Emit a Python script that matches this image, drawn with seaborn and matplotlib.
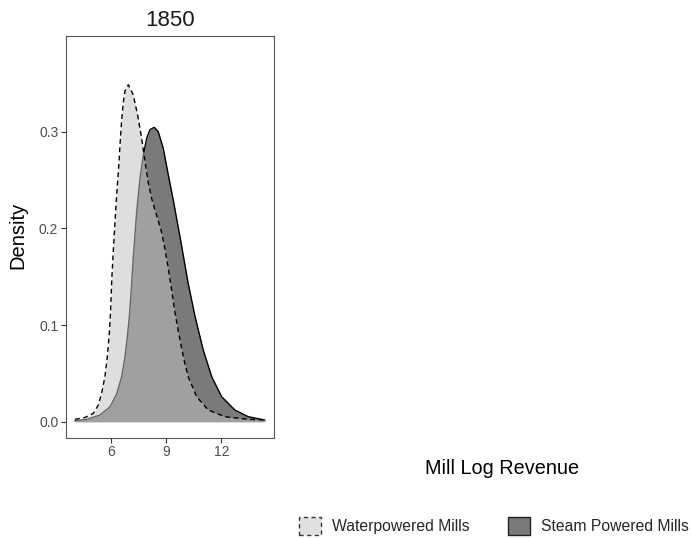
import matplotlib
matplotlib.use("Agg")
import matplotlib.pyplot as plt
from matplotlib.patches import Patch
import seaborn as sns
import pandas as pd

# Density estimates of log revenue, 1850
water_x = [4.04, 4.59, 5.04, 5.31, 5.49, 5.67, 5.80, 5.91, 5.98, 6.05, 6.13, 6.22,
           6.31, 6.40, 6.49, 6.58, 6.67, 6.76, 6.94, 7.21, 7.45, 7.67, 7.85, 8.03,
           8.21, 8.39, 8.57, 8.75, 8.94, 9.12, 9.30, 9.48, 9.66, 9.84, 10.02, 10.20,
           10.66, 11.29, 12.20, 13.47, 14.37]
water_d = [0.0025, 0.0045, 0.0087, 0.0173, 0.0294, 0.0465, 0.0672, 0.0914, 0.1155, 0.150, 0.178, 0.207,
           0.235, 0.258, 0.286, 0.312, 0.330, 0.342, 0.3485, 0.338, 0.317, 0.293, 0.269, 0.247,
           0.231, 0.219, 0.208, 0.196, 0.178, 0.158, 0.136, 0.113, 0.094, 0.076, 0.060, 0.0465,
           0.0259, 0.0121, 0.0052, 0.0025, 0.0018]

steam_x = [4.04, 4.68, 5.40, 5.95, 6.31, 6.58, 6.76, 6.89, 7.00, 7.09, 7.18, 7.21,
           7.40, 7.58, 7.76, 7.94, 8.12, 8.35, 8.57, 8.84, 9.12, 9.39, 9.84, 10.20,
           10.57, 11.02, 11.48, 12.02, 12.74, 13.47, 14.37]
steam_d = [0.001, 0.0025, 0.0069, 0.0155, 0.029, 0.0465, 0.067, 0.088, 0.109, 0.133, 0.160, 0.169,
           0.218, 0.252, 0.276, 0.293, 0.302, 0.3045, 0.300, 0.283, 0.255, 0.229, 0.182, 0.143,
           0.109, 0.074, 0.0465, 0.0259, 0.0121, 0.0052, 0.0018]

groups = ["Waterpowered Mills", "Steam Powered Mills"]
x_ticks = [6, 9, 12]
y_ticks = [0.0, 0.1, 0.2, 0.3]
panel_title = "1850"

sns.set_theme(style="white")
plt.rcParams["font.family"] = ["Liberation Sans", "DejaVu Sans"]

water = pd.DataFrame({"x": water_x, "d": water_d})
steam = pd.DataFrame({"x": steam_x, "d": steam_d})

fig = plt.figure(figsize=(6.92, 5.38), dpi=100)
ax = fig.add_axes([66 / 692, 1 - 437.7 / 538, (273.5 - 66) / 692, (437.7 - 36) / 538])

water_fill = "#c2c2c2"
steam_fill = "#7a7a7a"

# steam layer underneath
ax.fill_between(steam["x"], 0, steam["d"], color=steam_fill, linewidth=0, zorder=1)
sns.lineplot(data=steam, x="x", y="d", ax=ax, color="black", linewidth=1.0,
             sort=False, zorder=2)

# waterpowered layer on top, translucent
ax.fill_between(water["x"], 0, water["d"], color=water_fill, alpha=0.53,
                linewidth=0, zorder=3)
sns.lineplot(data=water, x="x", y="d", ax=ax, color="black", linewidth=1.0,
             sort=False, zorder=4)
ax.lines[-1].set_linestyle((0, (3.5, 2.5)))
for ln in ax.lines:
    ln.set_solid_joinstyle("round")
    ln.set_dash_joinstyle("round")

ax.set_xlim(3.553, 14.84)
ax.set_ylim(-0.0165, 0.3989)
ax.set_xticks(x_ticks)
ax.set_xticklabels([str(t) for t in x_ticks])
ax.set_yticks(y_ticks)
ax.set_yticklabels([f"{t:.1f}" for t in y_ticks])
ax.tick_params(axis="both", which="both", length=3.5, width=0.8, color="#333333",
               labelsize=10, labelcolor="#4d4d4d", pad=2, bottom=True, left=True)
ax.set_xlabel("")
ax.set_ylabel("")
for s in ax.spines.values():
    s.set_color("#555555")
    s.set_linewidth(0.8)
ax.grid(False)
ax.set_title(panel_title, fontsize=16, color="#1a1a1a", pad=7)

fig.text(17.5 / 692, 1 - 235 / 538, "Density", rotation=90, ha="center", va="center",
         fontsize=14.5, color="black")
fig.text(502 / 692, 1 - 468 / 538, "Mill Log Revenue", ha="center", va="center",
         fontsize=14.3, color="black")

handles = [
    Patch(facecolor="#e0e0e0", edgecolor="#333333", linestyle=(0, (3, 2.5)), linewidth=1.0),
    Patch(facecolor=steam_fill, edgecolor="#222222", linewidth=1.0),
]
fig.legend(handles, groups, loc="center", bbox_to_anchor=(494 / 692, 1 - 526 / 538),
           ncol=2, frameon=False, fontsize=11.3, handlelength=1.4, handleheight=1.4,
           columnspacing=2.5, handletextpad=0.65, borderpad=0.1)

fig.savefig("out.png", dpi=100)
